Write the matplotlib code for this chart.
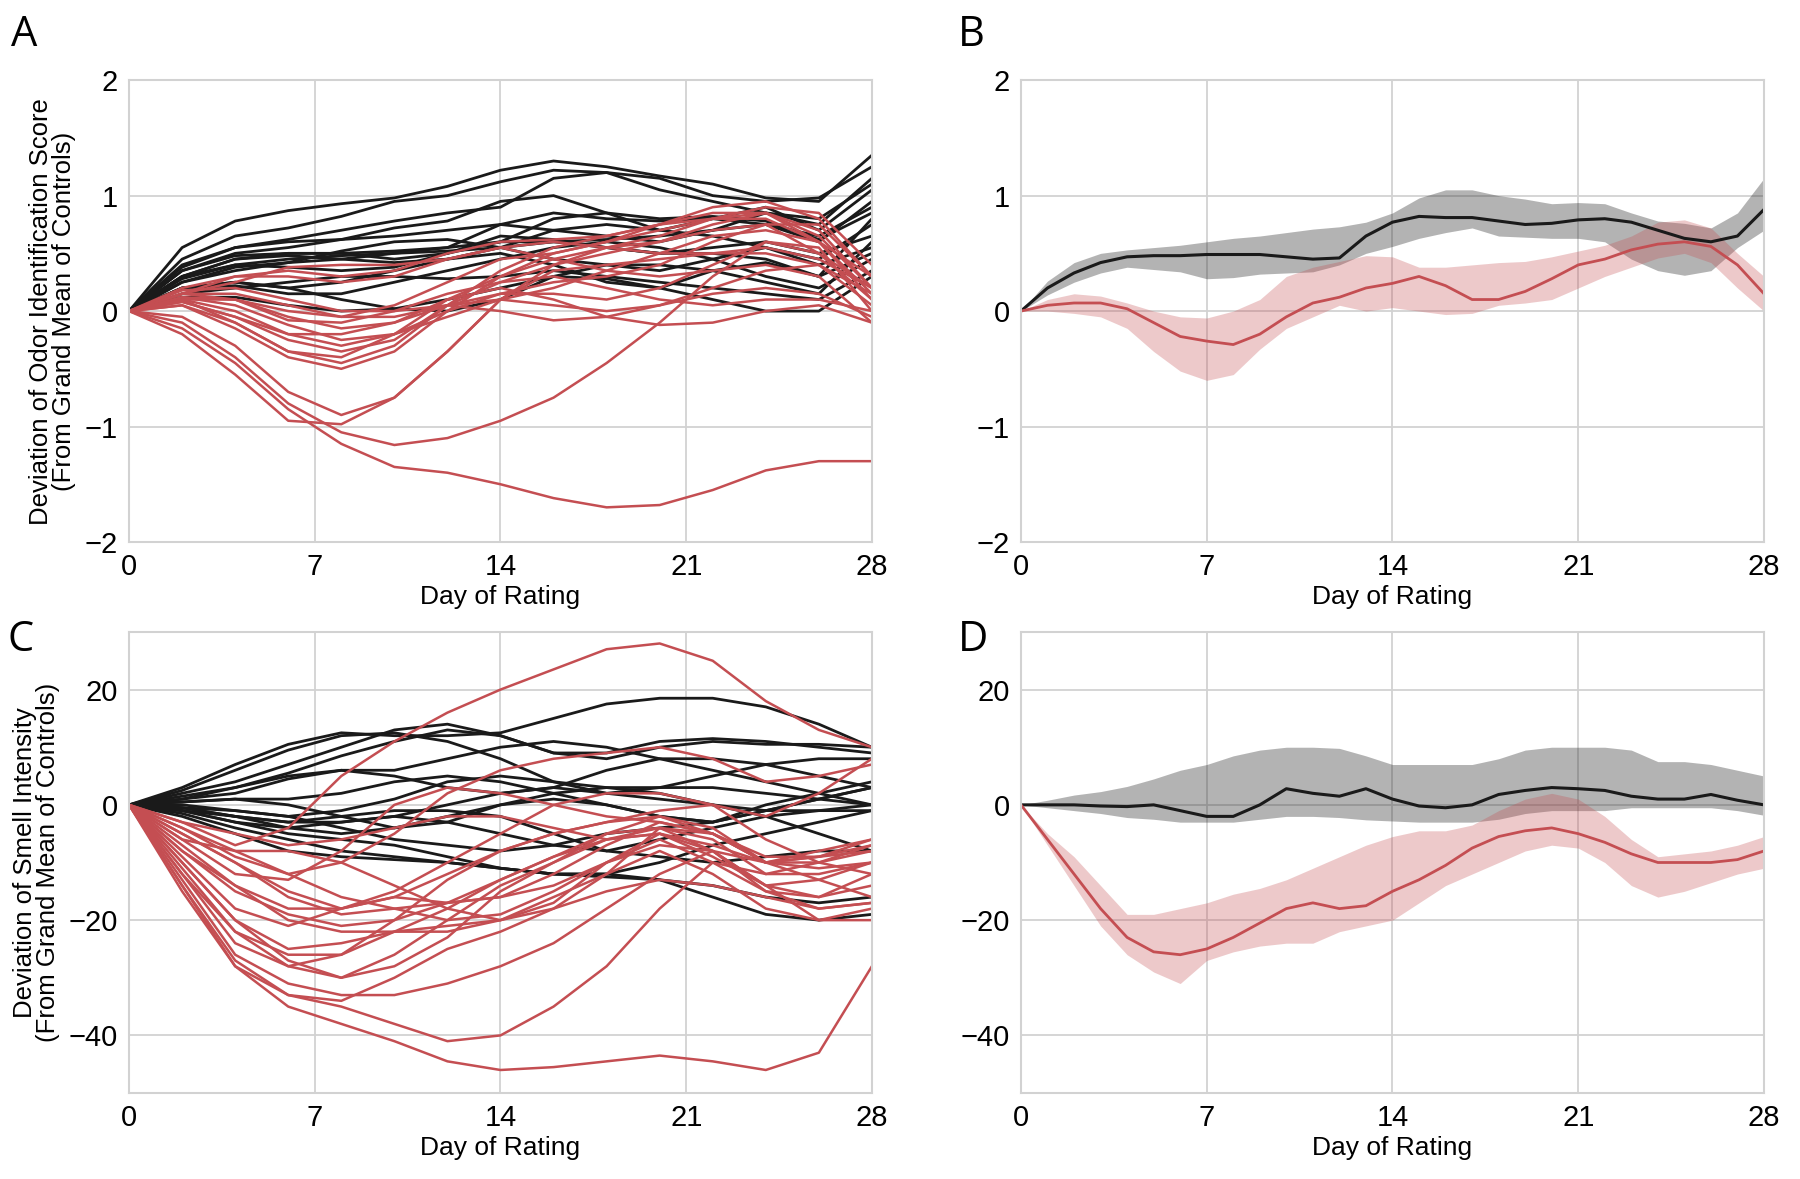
import matplotlib
matplotlib.use("Agg")
import numpy as np
import matplotlib.pyplot as plt

# ---- data ----
days = [0, 2, 4, 6, 8, 10, 12, 14, 16, 18, 20, 22, 24, 26, 28]
days_daily = list(range(29))

# Panel A: odor identification, individual smoothed trajectories
odor_controls = [
    [0, .55, .78, .87, .93, .98, 1.08, 1.22, 1.30, 1.25, 1.17, 1.10, .98, .95, 1.35],
    [0, .45, .65, .72, .82, .95, 1.0, 1.12, 1.22, 1.2, 1.15, 1.0, .95, .98, 1.25],
    [0, .4, .55, .62, .7, .78, .85, .9, 1.15, 1.2, 1.05, .95, .85, .75, 1.15],
    [0, .35, .5, .55, .62, .72, .78, .95, 1.0, .85, .7, .8, .9, .7, 1.05],
    [0, .35, .48, .5, .5, .52, .55, .75, .85, .8, .78, .8, .75, .6, .95],
    [0, .3, .45, .5, .5, .45, .5, .6, .8, .85, .8, .82, .78, .62, .85],
    [0, .3, .45, .48, .45, .42, .45, .55, .7, .75, .7, .65, .55, .45, .75],
    [0, .3, .4, .38, .35, .38, .5, .65, .62, .55, .5, .55, .6, .5, .65],
    [0, .25, .38, .42, .52, .6, .62, .55, .45, .4, .35, .45, .55, .4, .55],
    [0, .2, .25, .2, .25, .35, .45, .5, .4, .25, .2, .35, .42, .3, .5],
    [0, .2, .22, .15, .15, .25, .35, .45, .55, .6, .55, .45, .3, .2, .45],
    [0, .15, .2, .25, .3, .3, .28, .3, .35, .3, .25, .2, .15, .1, .35],
    [0, .12, .12, .05, 0, .02, .1, .2, .3, .28, .2, .1, 0, 0, .3],
    [0, .2, .25, .2, .1, .02, 0, .1, .3, .4, .4, .35, .25, .15, .6],
    [0, .25, .35, .42, .45, .5, .55, .6, .6, .55, .5, .5, .45, .3, .8],
    [0, .38, .55, .6, .62, .65, .7, .75, .7, .65, .6, .7, .85, .8, 1.1],
    [0, .28, .4, .45, .48, .5, .52, .55, .6, .62, .65, .7, .75, .65, .9],
]
odor_patients = [
    [0, -.15, -.45, -.85, -1.15, -1.35, -1.4, -1.5, -1.62, -1.7, -1.68, -1.55, -1.38, -1.3, -1.3],
    [0, -.1, -.4, -.8, -1.05, -1.16, -1.1, -.95, -.75, -.45, -.1, .3, .6, .5, .2],
    [0, -.2, -.55, -.95, -.98, -.75, -.35, .1, .35, .4, .45, .5, .55, .45, .2],
    [0, -.05, -.3, -.7, -.9, -.75, -.35, .1, .4, .55, .6, .7, .75, .5, .1],
    [0, .05, -.15, -.4, -.5, -.35, 0, .3, .5, .6, .7, .8, .85, .6, .3],
    [0, .05, -.1, -.35, -.45, -.3, .05, .35, .55, .65, .75, .9, .95, .8, .3],
    [0, .08, -.05, -.25, -.35, -.25, .05, .25, .4, .5, .6, .75, .85, .7, .2],
    [0, .1, 0, -.2, -.3, -.2, 0, .15, .25, .3, .4, .6, .75, .75, .3],
    [0, .12, .05, -.12, -.25, -.2, -.05, .1, .2, .35, .5, .65, .7, .6, .15],
    [0, .12, .1, -.05, -.15, -.1, .05, .15, .15, .1, .2, .4, .6, .55, 0],
    [0, .15, .15, .05, -.05, -.05, .05, .1, .05, 0, .05, .2, .35, .4, .05],
    [0, .18, .2, .1, 0, 0, .05, 0, -.08, -.05, .05, .15, .2, .15, -.05],
    [0, .2, .3, .3, .25, .3, .45, .55, .45, .35, .3, .35, .4, .3, -.1],
    [0, .15, .25, .38, .4, .4, .45, .55, .6, .55, .5, .5, .5, .4, .15],
    [0, .1, .1, 0, -.05, .05, .25, .45, .5, .6, .75, .85, .85, .65, .2],
    [0, .15, .1, -.08, -.1, 0, .15, .25, .3, .2, .1, .05, .1, .1, 0],
    [0, .15, .3, .35, .3, .35, .5, .6, .62, .65, .75, .8, .8, .6, .1],
    [0, .1, -.1, -.35, -.4, -.2, .1, .2, .1, -.05, -.12, -.1, 0, .05, -.1],
    [0, .08, -.05, -.2, -.2, -.1, .1, .3, .45, .55, .65, .8, .9, .85, .4],
]

# Panel B: group means with confidence bands (daily)
odor_ctrl_mean = [0, .2, .33, .42, .47, .48, .48, .49, .49, .49, .47, .45, .46, .65, .77,
                  .82, .81, .81, .78, .75, .76, .79, .80, .77, .7, .63, .6, .65, .88]
odor_ctrl_hi = [0, .26, .42, .5, .53, .55, .57, .6, .63, .65, .68, .71, .73, .77, .85,
                .98, 1.05, 1.05, 1.0, .97, .93, .94, .93, .85, .78, .76, .72, .85, 1.15]
odor_ctrl_lo = [0, .14, .25, .33, .38, .36, .34, .28, .29, .32, .33, .34, .4, .5, .56,
                .63, .68, .72, .65, .64, .63, .63, .6, .45, .35, .31, .35, .55, .7]
odor_pat_mean = [0, .05, .07, .07, .02, -.1, -.22, -.26, -.29, -.2, -.05, .07, .12, .2, .24,
                 .3, .22, .1, .1, .17, .28, .4, .45, .53, .58, .6, .56, .4, .15]
odor_pat_hi = [0, .1, .15, .13, .07, 0, -.05, -.06, 0, .1, .3, .38, .43, .48, .47,
               .38, .38, .4, .42, .43, .47, .52, .57, .65, .77, .79, .72, .5, .3]
odor_pat_lo = [0, 0, -.02, -.05, -.15, -.35, -.52, -.6, -.55, -.33, -.15, -.05, .05, 0, .03,
               0, -.03, -.02, .05, .07, .1, .2, .3, .38, .46, .5, .42, .2, 0]

# Panel C: smell intensity, individual smoothed trajectories
smell_controls = [
    [0, 3, 7, 10.5, 12.5, 12, 12, 12.5, 15, 17.5, 18.5, 18.5, 17, 14, 10],
    [0, 2.5, 6, 9.5, 12, 12.5, 11, 8, 4, 2, 3, 5, 7, 8, 8],
    [0, 2, 4, 7, 10, 13, 14, 12, 9, 9, 11, 11.5, 11, 10, 9],
    [0, 1.5, 3, 5.5, 8.5, 11, 13, 12, 9, 8, 10, 11, 10.5, 10.5, 10],
    [0, 1, 2, 4.5, 6, 5, 3, 2, 3, 6, 8, 8, 7, 5, 3],
    [0, 1, 3, 5, 6, 6, 8, 10, 11, 10, 8, 6, 4, 2, 0],
    [0, .5, 1, 1, 2, 4, 5, 4, 2, 0, -2, -3, 0, 2, 4],
    [0, 0, -1, -2, -1, 1, 4, 5, 4, 3, 3, 3, 2, 1, 0],
    [0, -.5, -2, -3, -3, -2, 0, 2, 3, 2, 1, 0, -1, -1, 0],
    [0, -.5, -2, -4, -5, -4, -2, 0, 1, 0, -2, -3, -1, 1, 3],
    [0, -1, -3, -4, -3, -2, -3, -5, -7, -8, -6, -4, -2, -1, -1],
    [0, -1, -2, -3, -2, -1, -1, -2, -5, -8, -9, -10, -9, -8, -8],
    [0, -1.5, -4, -6, -8, -9, -10, -11, -12, -12.5, -13, -14, -16, -17, -16],
    [0, -2, -5, -8, -9, -9.5, -10, -11, -12, -12, -13, -16, -19, -20, -19],
    [0, -1, -3, -5, -6, -7, -9, -11, -12, -12, -10, -7, -5, -3, -1],
    [0, -.5, -1, -2, -4, -6, -7, -8, -7, -5, -4, -3, -1, 1, 3],
    [0, .5, 1, 0, -2, -4, -3, 0, 2, 3, 2, 0, -2, -5, -8],
]
smell_patients = [
    [0, -3, -7, -4, 5, 11, 16, 20, 23.5, 27, 28, 25, 18, 13, 10],
    [0, -15, -28, -35, -38, -41, -44.5, -46, -45.5, -44.5, -43.5, -44.5, -46, -43, -28],
    [0, -14, -27, -33, -35, -38, -41, -40, -35, -28, -18, -10, -12, -10, -8],
    [0, -13, -26, -31, -33, -33, -31, -28, -24, -18, -12, -8, -10, -13, -16],
    [0, -12, -24, -28, -26, -20, -13, -8, -5, -3, -1, 0, -2, 2, 8],
    [0, -12, -22, -28, -30, -28, -23, -15, -10, -6, -4, -6, -12, -12, -10],
    [0, -11, -22, -26, -26, -22, -18, -13, -9, -5, -4, -8, -15, -16, -12],
    [0, -10, -20, -25, -24, -22, -21, -20, -18, -12, -4, -5, -10, -8, -6],
    [0, -9, -18, -21, -18, -16, -17, -16, -12, -7, -3, -5, -10, -9, -7],
    [0, -8, -15, -19, -21, -20, -17, -13, -9, -6, -5, -9, -14, -13, -10],
    [0, -6, -12, -13, -8, 0, 3, 2, 0, -2, -3, -5, -10, -9, -6],
    [0, -4, -9, -12, -10, -5, 2, 6, 8, 9, 10, 8, 4, 5, 7],
    [0, -5, -10, -16, -19, -18, -17, -16, -14, -10, -6, -10, -15, -18, -17],
    [0, -7, -14, -20, -22, -22, -22, -20, -16, -12, -8, -12, -18, -20, -18],
    [0, -6, -8, -8, -10, -14, -18, -20, -17, -10, -5, -8, -14, -16, -14],
    [0, -3, -5, -7, -6, -4, -2, -2, -4, -6, -5, -7, -10, -11, -10],
    [0, -5, -10, -15, -18, -16, -12, -8, -5, -3, -2, -5, -9, -9, -8],
    [0, -10, -20, -27, -30, -26, -20, -14, -10, -5, -2, -4, -10, -10, -7],
    [0, -8, -14, -18, -18, -15, -10, -5, 0, 2, 2, 0, -6, -10, -12],
    [0, -14, -28, -33, -34, -30, -25, -22, -18, -15, -13, -14, -16, -18, -17],
    [0, -4, -8, -12, -16, -18, -20, -19, -15, -10, -7, -8, -14, -20, -20],
]

# Panel D: group means with confidence bands (daily)
smell_ctrl_mean = [0, 0, 0, -.2, -.3, 0, -1, -2, -2, 0, 2.8, 2, 1.5, 2.8, 1,
                   -.2, -.5, 0, 1.8, 2.5, 3, 2.8, 2.5, 1.5, 1, 1, 1.8, .8, 0]
smell_ctrl_hi = [0, .8, 1.7, 2.3, 3.2, 4.5, 6, 7, 8.5, 9.5, 10, 10, 9.8, 8.5, 7,
                 7, 7, 7, 8, 9.5, 10, 10, 10, 9.5, 7.5, 7.5, 7, 6, 5]
smell_ctrl_lo = [0, -.5, -1, -1.5, -2.2, -2.5, -3, -3, -3, -2.5, -2, -2, -2.2, -2.6, -2.8,
                 -3, -3, -3, -2.5, -1.5, -1, -1, -1, -.5, -.5, -.5, -.5, -1, -1.8]
smell_pat_mean = [0, -6, -12, -18, -23, -25.5, -26, -25, -23, -20.5, -18, -17, -18, -17.5, -15,
                  -13, -10.5, -7.5, -5.5, -4.5, -4, -5, -6.5, -8.5, -10, -10, -10, -9.5, -8]
smell_pat_hi = [0, -5, -9, -14, -19, -19, -18, -17, -15.5, -14.5, -13, -11, -9, -7, -5.5,
                -4.5, -4.5, -3.5, -1, 1, 2, 1, -2, -6, -9, -8.5, -8, -7, -5.5]
smell_pat_lo = [0, -7, -14, -21, -26, -29, -31, -27, -25.5, -24.5, -24, -24, -22, -21, -20,
                -17, -14, -12, -10, -8, -7, -7.5, -10, -14, -16, -15, -13.5, -12, -11]

BLACK = "#1a1a1a"
RED = "#c44e52"
GRID = "#d2d2d2"

plt.rcParams["font.family"] = ["Liberation Sans", "DejaVu Sans"]
TICK_FONT = ["Liberation Sans Narrow", "Liberation Sans", "DejaVu Sans"]


def style_axes(ax, ylim, yticks, ylabel=None):
    ax.set_xlim(0, 28)
    ax.set_ylim(*ylim)
    ax.set_xticks([0, 7, 14, 21, 28])
    ax.set_yticks(yticks)
    ax.grid(True, color=GRID, linewidth=1.3)
    ax.set_axisbelow(True)
    for s in ax.spines.values():
        s.set_color(GRID)
        s.set_linewidth(1.5)
    ax.tick_params(length=0, pad=8)
    for lab in ax.get_xticklabels() + ax.get_yticklabels():
        lab.set_family(TICK_FONT)
        lab.set_fontsize(21)
    ax.set_xlabel("Day of Rating", fontsize=19, labelpad=3)
    if ylabel:
        ax.set_ylabel(ylabel, fontsize=18.5, linespacing=0.95, labelpad=6)


fig = plt.figure(figsize=(18, 11.79), dpi=100)
axA = fig.add_axes([0.0717, 0.5403, 0.4127, 0.3917])
axB = fig.add_axes([0.5672, 0.5403, 0.4128, 0.3917])
axC = fig.add_axes([0.0717, 0.0729, 0.4127, 0.3911])
axD = fig.add_axes([0.5672, 0.0729, 0.4128, 0.3911])

for y in odor_controls:
    axA.plot(days, y, color=BLACK, lw=2.0, solid_joinstyle="round")
for y in odor_patients:
    axA.plot(days, y, color=RED, lw=1.8, solid_joinstyle="round")
style_axes(axA, (-2, 2), [-2, -1, 0, 1, 2],
           "Deviation of Odor Identification Score\n(From Grand Mean of Controls)")

axB.fill_between(days_daily, odor_ctrl_lo, odor_ctrl_hi, color=BLACK, alpha=0.33, lw=0)
axB.fill_between(days_daily, odor_pat_lo, odor_pat_hi, color=RED, alpha=0.3, lw=0)
axB.plot(days_daily, odor_ctrl_mean, color=BLACK, lw=2.2)
axB.plot(days_daily, odor_pat_mean, color=RED, lw=2.0)
style_axes(axB, (-2, 2), [-2, -1, 0, 1, 2])

for y in smell_controls:
    axC.plot(days, y, color=BLACK, lw=2.0, solid_joinstyle="round")
for y in smell_patients:
    axC.plot(days, y, color=RED, lw=1.8, solid_joinstyle="round")
style_axes(axC, (-50, 30), [-40, -20, 0, 20],
           "Deviation of Smell Intensity\n(From Grand Mean of Controls)")

axD.fill_between(days_daily, smell_ctrl_lo, smell_ctrl_hi, color=BLACK, alpha=0.33, lw=0)
axD.fill_between(days_daily, smell_pat_lo, smell_pat_hi, color=RED, alpha=0.3, lw=0)
axD.plot(days_daily, smell_ctrl_mean, color=BLACK, lw=2.2)
axD.plot(days_daily, smell_pat_mean, color=RED, lw=2.0)
style_axes(axD, (-50, 30), [-40, -20, 0, 20])

for letter, x, y in [("A", 0.006, 0.988), ("B", 0.532, 0.988),
                     ("C", 0.004, 0.475), ("D", 0.532, 0.475)]:
    fig.text(x, y, letter, fontsize=30, family=["Open Sans", "DejaVu Sans"],
             va="top", ha="left")

fig.savefig("out.png", dpi=100)
